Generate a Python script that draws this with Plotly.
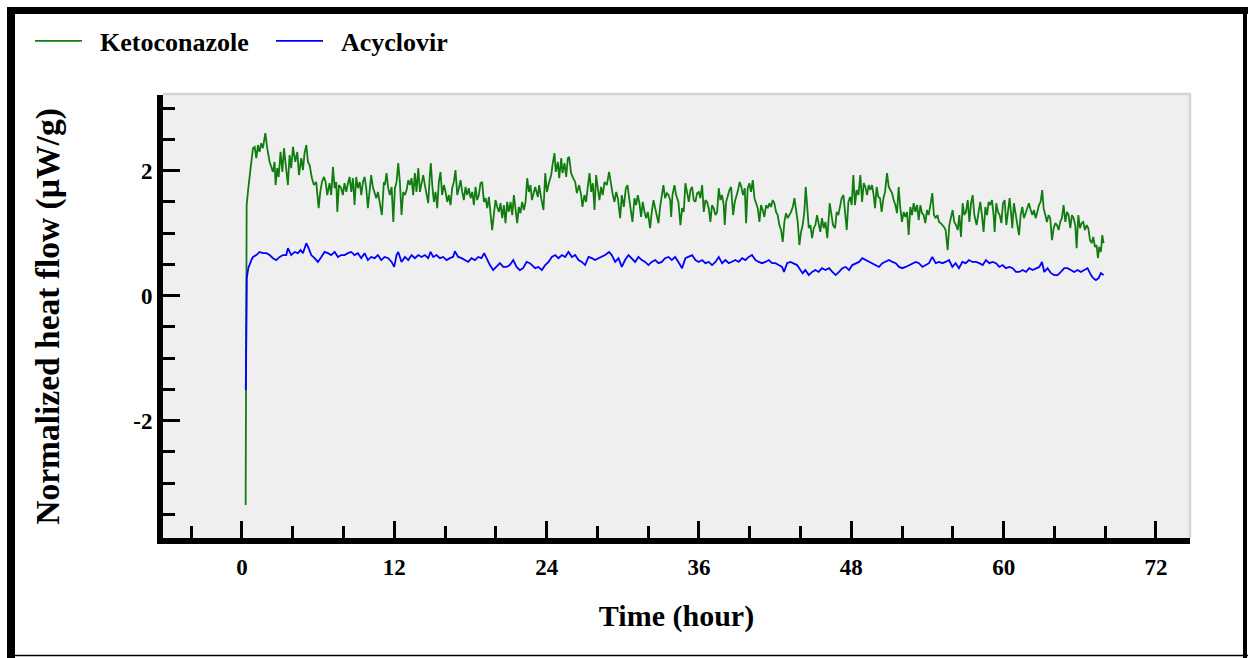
import plotly.graph_objects as go

# ---------------- data ----------------
green_time = [
    0.29, 0.31, 0.37, 0.47, 0.58, 0.68, 0.87, 1.00, 1.13, 1.26,
    1.39, 1.52, 1.65, 1.84, 1.99, 2.18, 2.31, 2.44, 2.57, 2.65,
    2.78, 2.89, 3.04, 3.18, 3.31, 3.44, 3.62, 3.75, 3.88, 4.02,
    4.20, 4.36, 4.49, 4.67, 4.80, 4.93, 5.07, 5.20, 5.33, 5.51,
    5.67, 5.85, 6.04, 6.17, 6.30, 6.46, 6.59, 6.72, 6.90, 7.03,
    7.17, 7.30, 7.43, 7.51, 7.64, 7.82, 7.95, 8.08, 8.22, 8.35,
    8.48, 8.61, 8.74, 8.87, 9.00, 9.13, 9.27, 9.40, 9.53, 9.66,
    9.79, 9.92, 10.05, 10.18, 10.31, 10.45, 10.58, 10.71, 10.84, 11.02,
    11.18,
    11.26, 11.39, 11.52, 11.65, 11.79, 11.92, 12.05, 12.18, 12.31, 12.44,
    12.57, 12.70, 12.84, 12.97, 13.10, 13.23, 13.36, 13.49, 13.62, 13.75,
    13.89, 14.02, 14.15, 14.28, 14.41, 14.54, 14.67, 14.80, 14.88, 14.99,
    15.12, 15.25, 15.38, 15.51, 15.64, 15.77, 15.91, 16.04, 16.17, 16.30,
    16.43, 16.56, 16.69, 16.82, 16.96, 17.09, 17.22, 17.35, 17.48, 17.61,
    17.74, 17.87, 18.01, 18.14, 18.27, 18.40, 18.53, 18.66, 18.79, 18.92,
    19.06, 19.19, 19.32, 19.45, 19.58, 19.71, 19.84, 19.97, 20.11, 20.24,
    20.37, 20.50, 20.63, 20.76, 20.89, 21.02, 21.16, 21.29, 21.42, 21.55,
    21.68, 21.81, 21.94, 22.07, 22.21, 22.34, 22.47, 22.60, 22.73,
    22.84, 23.10, 23.31, 23.41, 23.57, 23.75, 23.89, 24.02, 24.20, 24.36,
    24.46, 24.62, 24.72, 24.88, 24.99, 25.15, 25.25, 25.41, 25.54, 25.67,
    25.77, 25.93, 26.09, 26.25, 26.38, 26.56, 26.72, 26.82, 26.98, 27.11,
    27.24, 27.38, 27.51, 27.64, 27.77, 27.90, 28.03, 28.16, 28.29, 28.42,
    28.56, 28.74, 28.92, 29.06, 29.19, 29.34, 29.48, 29.61, 29.79, 29.92,
    30.08, 30.24, 30.37, 30.50, 30.63, 30.76, 30.92, 31.05, 31.18, 31.31,
    31.44, 31.57, 31.71, 31.84, 31.97, 32.15, 32.28, 32.42, 32.55, 32.68,
    32.81, 32.94, 33.07, 33.20, 33.33, 33.47, 33.60, 33.73, 33.81, 33.91,
    34.07, 34.20, 34.38,
    34.54, 34.67, 34.80, 34.93, 35.07, 35.20, 35.33, 35.46, 35.59, 35.72,
    35.85, 35.98, 36.11, 36.25, 36.38, 36.51, 36.64, 36.77, 36.90, 37.03,
    37.16, 37.30, 37.43, 37.56, 37.69, 37.82, 37.95, 38.03, 38.14, 38.27,
    38.40, 38.53, 38.69, 38.82, 38.95, 39.08, 39.21, 39.34, 39.47, 39.61,
    39.71, 39.84, 39.97, 40.10, 40.24, 40.37, 40.50, 40.63, 40.76, 40.89,
    41.02, 41.15, 41.29, 41.42, 41.55, 41.68, 41.81, 41.94, 42.07, 42.20,
    42.33, 42.47, 42.60, 42.73, 42.86, 42.99, 43.12, 43.25, 43.39, 43.52,
    43.65, 43.78, 43.91, 44.04, 44.17, 44.30, 44.41, 44.51, 44.65, 44.78,
    44.91, 45.04, 45.17, 45.30, 45.43, 45.56, 45.69, 45.83, 45.96,
    46.11, 46.30, 46.43, 46.56, 46.72, 46.85, 46.98, 47.11, 47.24, 47.38,
    47.51, 47.64, 47.77, 47.90, 48.03, 48.16, 48.29, 48.42, 48.56, 48.71,
    48.85, 48.98, 49.11, 49.24, 49.37, 49.50, 49.63, 49.76, 49.87, 50.00,
    50.13, 50.26, 50.39, 50.53, 50.66, 50.81, 50.95, 51.08, 51.21, 51.34,
    51.47, 51.60, 51.73, 51.86, 51.99, 52.13, 52.26, 52.39, 52.52, 52.65,
    52.78, 52.91, 53.04, 53.18, 53.31, 53.44, 53.57, 53.70, 53.83, 53.96,
    54.09, 54.23, 54.38, 54.51, 54.65, 54.78, 54.91, 55.04, 55.17, 55.30,
    55.43, 55.59, 55.72, 55.85, 55.98, 56.11, 56.25, 56.38, 56.51, 56.64,
    56.77, 56.90, 57.03, 57.17, 57.30, 57.43,
    57.56, 57.69, 57.87, 58.03, 58.16, 58.29, 58.42, 58.56, 58.69, 58.82,
    58.95, 59.08, 59.21, 59.29, 59.42, 59.55, 59.69, 59.82, 59.95, 60.08,
    60.21, 60.34, 60.47, 60.60, 60.68, 60.81, 60.95, 61.08, 61.21, 61.34,
    61.47, 61.60, 61.73, 61.86, 61.99, 62.13, 62.26, 62.39, 62.52, 62.65,
    62.78, 62.91, 63.04, 63.15, 63.28, 63.41, 63.54, 63.67, 63.81, 63.94,
    64.07, 64.20, 64.33, 64.46, 64.59, 64.72, 64.86, 64.99, 65.12, 65.25,
    65.38, 65.51, 65.64, 65.75, 65.88, 66.01, 66.14, 66.27, 66.40, 66.54,
    66.67, 66.80, 66.93, 67.06, 67.19, 67.32, 67.43, 67.53, 67.66, 67.77,
    67.87,
]
green_flow = [
    -3.35, 1.10, 1.45, 1.66, 1.90, 2.04, 2.36, 2.38, 2.20, 2.41,
    2.30, 2.44, 2.36, 2.60, 2.36, 2.14, 2.06, 1.98, 2.14, 1.77,
    2.04, 1.90, 2.30, 1.98, 2.36, 2.09, 1.77, 2.25, 2.04, 2.38,
    2.14, 2.30, 1.93, 2.20, 2.01, 2.28, 2.41, 2.14, 2.09, 1.88,
    1.77, 1.82, 1.40, 1.66, 1.82, 1.90, 1.82, 1.61, 1.80, 1.61,
    2.06, 1.72, 1.82, 1.34, 1.77, 1.72, 1.61, 1.80, 1.66, 1.80,
    1.90, 1.66, 1.88, 1.45, 1.90, 1.72, 1.82, 1.61, 1.82, 1.90,
    1.72, 1.40, 1.72, 1.93, 1.74, 1.66, 1.56, 1.66, 1.50, 1.29,
    1.82,
    1.77, 1.96, 1.72, 1.61, 1.74, 1.18, 1.72, 1.82, 2.12, 1.82,
    1.29, 1.66, 1.61, 1.69, 1.85, 1.77, 1.88, 1.61, 1.96, 1.66,
    2.04, 1.66, 1.82, 1.93, 1.77, 1.64, 1.48, 1.93, 2.12, 1.77,
    1.50, 1.66, 1.40, 1.82, 1.98, 1.61, 1.77, 1.66, 1.50, 1.61,
    1.45, 1.72, 1.82, 2.01, 1.61, 1.72, 1.85, 1.66, 1.53, 1.74,
    1.61, 1.72, 1.56, 1.66, 1.45, 1.74, 1.53, 1.61, 1.80, 1.82,
    1.50, 1.56, 1.40, 1.58, 1.34, 1.05, 1.29, 1.53, 1.42, 1.34,
    1.48, 1.24, 1.45, 1.16, 1.50, 1.34, 1.50, 1.29, 1.61, 1.34,
    1.16, 1.42, 1.32, 1.50, 1.37, 1.50, 1.88, 1.66, 1.77,
    1.53, 1.74, 1.58, 1.77, 1.56, 1.37, 1.96, 1.66, 1.82, 1.93,
    2.09, 2.28, 1.98, 2.14, 1.88, 2.20, 1.96, 2.12, 1.90, 2.20,
    2.22, 1.96, 1.88, 1.82, 1.64, 1.77, 1.61, 1.42, 1.61, 1.50,
    1.74, 1.96, 1.66, 1.80, 1.37, 1.93, 1.72, 1.53, 1.74, 1.61,
    1.82, 1.77, 1.98, 1.77, 1.64, 1.50, 1.66, 1.56, 1.24, 1.61,
    1.42, 1.72, 1.77, 1.56, 1.40, 1.18, 1.56, 1.45, 1.61, 1.48,
    1.26, 1.50, 1.34, 1.24, 1.34, 1.08, 1.34, 1.53, 1.40, 1.29,
    1.16, 1.42, 1.61, 1.77, 1.56, 1.64, 1.61, 1.53, 1.26, 1.61,
    1.77, 1.61, 1.50,
    1.13, 1.40, 1.34, 1.80, 1.61, 1.50, 1.69, 1.74, 1.53, 1.50,
    1.64, 1.66, 1.56, 1.77, 1.34, 1.53, 1.50, 1.40, 1.18, 1.45,
    1.40, 1.29, 1.34, 1.72, 1.53, 1.61, 1.45, 1.13, 1.50, 1.61,
    1.69, 1.74, 1.29, 1.50, 1.58, 1.69, 1.82, 1.74, 1.61, 1.72,
    1.16, 1.72, 1.80, 1.66, 1.85, 1.56, 1.48, 1.40, 1.18, 1.45,
    1.37, 1.26, 1.45, 1.40, 1.48, 1.42, 1.53, 1.48, 1.34, 1.29,
    1.13, 1.05, 0.86, 1.18, 1.32, 1.24, 1.29, 1.34, 1.42, 1.56,
    1.37, 1.18, 0.81, 1.02, 1.13, 1.34, 1.74, 1.40, 1.08, 1.13,
    0.92, 1.08, 1.13, 1.29, 1.13, 1.02, 1.24, 1.08, 1.18,
    0.92, 1.48, 1.29, 1.13, 1.08, 1.34, 1.29, 1.45, 1.56, 1.61,
    1.29, 1.05, 1.50, 1.58, 1.45, 1.93, 1.45, 1.69, 1.61, 1.93,
    1.50, 1.80, 1.74, 1.61, 1.77, 1.69, 1.77, 1.61, 1.40, 1.74,
    1.58, 1.56, 1.34, 1.56, 1.66, 1.96, 1.74, 1.69, 1.64, 1.53,
    1.45, 1.32, 1.74, 1.40, 1.18, 1.34, 1.26, 1.34, 0.97, 1.42,
    1.29, 1.48, 1.34, 1.45, 1.21, 1.45, 1.32, 1.29, 1.16, 1.37,
    1.29, 1.45, 1.64, 1.29, 1.24, 1.29, 1.18, 1.16, 1.13, 1.10,
    1.05, 0.73, 1.13, 1.24, 1.37, 1.18, 1.13, 1.05, 1.29, 0.94,
    1.48, 1.29, 1.34, 1.53, 1.18, 1.48,
    1.61, 1.29, 1.13, 1.34, 1.50, 1.29, 1.02, 1.42, 1.29, 1.50,
    1.45, 1.53, 1.29, 1.02, 1.48, 1.34, 1.29, 1.16, 1.48, 1.53,
    1.13, 1.34, 1.56, 1.29, 1.08, 1.48, 1.29, 1.18, 0.97, 1.29,
    1.42, 1.24, 1.32, 1.40, 1.48, 1.37, 1.29, 1.37, 1.24, 1.34,
    1.45, 1.50, 1.69, 1.40, 1.26, 1.18, 1.29, 1.24, 0.89, 1.08,
    1.16, 1.13, 1.05, 1.18, 1.24, 1.45, 1.18, 1.34, 1.29, 1.08,
    1.29, 1.24, 1.13, 0.76, 1.29, 1.08, 1.16, 1.18, 1.05, 1.13,
    1.08, 0.89, 0.84, 0.94, 0.78, 0.81, 0.60, 0.78, 0.70, 0.97,
    0.84,
]

blue_time = [
    0.30, 0.32, 0.38, 0.50, 0.62, 0.76, 0.87, 1.13, 1.39, 1.65,
    1.92, 2.18, 2.44, 2.70, 2.97, 3.23, 3.49, 3.62, 3.88, 4.15,
    4.41, 4.62, 4.80, 5.07, 5.25, 5.46, 5.72, 5.98, 6.25, 6.51,
    6.77, 7.03, 7.30, 7.56, 7.82, 8.08, 8.35, 8.61, 8.87, 9.13,
    9.40, 9.66, 9.92, 10.18, 10.45, 10.71, 10.97, 11.24,
    11.52, 11.79, 11.99, 12.18, 12.31, 12.57, 12.84, 13.10, 13.36, 13.62,
    13.89, 14.15, 14.41, 14.67, 14.86, 15.07, 15.33, 15.59, 15.85, 16.12,
    16.38, 16.64, 16.77, 17.03, 17.30, 17.56, 17.82, 18.08, 18.35, 18.61,
    18.87, 19.08, 19.27, 19.53, 19.79, 20.05, 20.32, 20.58, 20.84, 21.10,
    21.37, 21.63, 21.89, 22.15, 22.42, 22.68,
    22.84, 23.10, 23.36, 23.62, 23.89, 24.15, 24.41, 24.67, 24.93, 25.20,
    25.46, 25.72, 25.99, 26.25, 26.51, 26.77, 27.03, 27.30, 27.56, 27.82,
    28.08, 28.35, 28.61, 28.92, 29.13, 29.40, 29.66, 29.92, 30.18, 30.45,
    30.71, 30.97, 31.23, 31.50, 31.76, 32.02, 32.28, 32.55, 32.81, 33.07,
    33.33, 33.60, 33.86, 34.12, 34.38,
    34.67, 34.93, 35.20, 35.46, 35.72, 35.98, 36.25, 36.51, 36.77, 37.03,
    37.30, 37.56, 37.82, 38.08, 38.35, 38.61, 38.87, 39.13, 39.40, 39.66,
    39.92, 40.18, 40.45, 40.71, 40.97, 41.23, 41.50, 41.76, 42.02, 42.28,
    42.55, 42.70, 42.94, 43.20, 43.46, 43.73, 43.99, 44.17, 44.38, 44.65,
    44.91, 45.17, 45.43, 45.69, 45.96,
    46.25, 46.51, 46.77, 47.03, 47.30, 47.56, 47.82, 48.08, 48.35, 48.61,
    48.87, 49.13, 49.40, 49.66, 49.92, 50.18, 50.45, 50.71, 50.97, 51.23,
    51.50, 51.76, 52.02, 52.28, 52.55, 52.81, 53.07, 53.33, 53.60, 53.86,
    54.12, 54.38, 54.65, 54.91, 55.17, 55.43, 55.70, 55.96, 56.22, 56.48,
    56.75, 57.01, 57.27, 57.53,
    57.82, 58.08, 58.35, 58.61, 58.87, 59.13, 59.40, 59.66, 59.92, 60.18,
    60.45, 60.71, 60.97, 61.23, 61.50, 61.76, 62.02, 62.28, 62.55, 62.81,
    63.02, 63.20, 63.46, 63.73, 63.99, 64.25, 64.51, 64.78, 65.04, 65.30,
    65.56, 65.83, 66.09, 66.35, 66.61, 66.88, 67.06, 67.27, 67.48, 67.66,
    67.87,
]
blue_flow = [
    -1.51, 0.10, 0.28, 0.44, 0.52, 0.58, 0.62, 0.65, 0.70, 0.68,
    0.68, 0.65, 0.60, 0.57, 0.62, 0.65, 0.65, 0.76, 0.65, 0.70,
    0.68, 0.73, 0.68, 0.84, 0.76, 0.65, 0.60, 0.54, 0.62, 0.70,
    0.68, 0.65, 0.70, 0.62, 0.65, 0.65, 0.68, 0.70, 0.65, 0.68,
    0.60, 0.68, 0.57, 0.62, 0.60, 0.65, 0.57, 0.62,
    0.60, 0.54, 0.46, 0.65, 0.70, 0.54, 0.62, 0.57, 0.65, 0.60,
    0.65, 0.62, 0.65, 0.60, 0.70, 0.62, 0.65, 0.60, 0.62, 0.57,
    0.60, 0.62, 0.71, 0.62, 0.60, 0.57, 0.54, 0.60, 0.57, 0.62,
    0.60, 0.68, 0.60, 0.49, 0.41, 0.46, 0.52, 0.46, 0.46, 0.49,
    0.57, 0.46, 0.41, 0.44, 0.54, 0.52,
    0.49, 0.44, 0.46, 0.41, 0.49, 0.54, 0.62, 0.65, 0.60, 0.65,
    0.62, 0.70, 0.62, 0.65, 0.57, 0.54, 0.49, 0.62, 0.60, 0.57,
    0.60, 0.62, 0.65, 0.70, 0.65, 0.54, 0.60, 0.46, 0.57, 0.65,
    0.60, 0.54, 0.62, 0.57, 0.54, 0.49, 0.54, 0.57, 0.52, 0.54,
    0.60, 0.62, 0.57, 0.62, 0.54,
    0.44, 0.60, 0.62, 0.65, 0.57, 0.54, 0.57, 0.52, 0.54, 0.49,
    0.54, 0.62, 0.52, 0.57, 0.52, 0.54, 0.57, 0.54, 0.60, 0.57,
    0.62, 0.65, 0.57, 0.54, 0.52, 0.54, 0.57, 0.52, 0.52, 0.49,
    0.46, 0.38, 0.52, 0.54, 0.52, 0.49, 0.41, 0.36, 0.41, 0.33,
    0.38, 0.41, 0.38, 0.44, 0.41,
    0.44, 0.38, 0.33, 0.38, 0.44, 0.46, 0.41, 0.49, 0.52, 0.54,
    0.60, 0.57, 0.54, 0.52, 0.49, 0.46, 0.52, 0.54, 0.57, 0.54,
    0.52, 0.46, 0.44, 0.46, 0.49, 0.52, 0.54, 0.52, 0.46, 0.49,
    0.52, 0.62, 0.52, 0.54, 0.52, 0.54, 0.57, 0.46, 0.52, 0.44,
    0.54, 0.52, 0.57, 0.54,
    0.54, 0.52, 0.49, 0.57, 0.52, 0.54, 0.52, 0.46, 0.49, 0.44,
    0.46, 0.44, 0.38, 0.38, 0.41, 0.38, 0.44, 0.41, 0.44, 0.46,
    0.54, 0.38, 0.44, 0.36, 0.33, 0.33, 0.38, 0.44, 0.44, 0.41,
    0.38, 0.41, 0.38, 0.41, 0.44, 0.33, 0.28, 0.25, 0.28, 0.36,
    0.33,
]

series_names = ["Ketoconazole", "Acyclovir"]
x_tick_vals = [0, 12, 24, 36, 48, 60, 72]
x_tick_labels = ["0", "12", "24", "36", "48", "60", "72"]
y_tick_vals = [-2, 0, 2]
y_tick_labels = ["-2", "0", "2"]
x_title = "Time (hour)"
y_title = "Normalized heat flow (µW/g)"

assert len(green_time) == len(green_flow), (len(green_time), len(green_flow))
assert len(blue_time) == len(blue_flow), (len(blue_time), len(blue_flow))

# ---------------- layout geometry ----------------
W, H = 1248, 658
L, R, T, B = 163, 58, 95, 120
PW, PH = W - L - R, H - T - B
FONT = "Liberation Serif"
GAP = "\u2002"  # spacing between legend line sample and its label


def px(xp):
    return (xp - L) / PW


def py(yp):
    return (H - B - yp) / PH


fig = go.Figure()
fig.add_trace(go.Scatter(x=green_time, y=green_flow, mode="lines", name=GAP + series_names[0],
                         line=dict(color="#117d11", width=1.8)))
fig.add_trace(go.Scatter(x=blue_time, y=blue_flow, mode="lines", name=GAP + series_names[1],
                         line=dict(color="#0000ff", width=1.8)))

axis_common = dict(
    showline=True, linecolor="black", linewidth=6, mirror=False,
    ticks="inside", ticklen=17, tickwidth=3, tickcolor="black",
    showgrid=False, zeroline=False, automargin=True,
    tickfont=dict(family=FONT, size=23, color="black", weight="bold"),
)

fig.update_xaxes(
    **axis_common,
    range=[-6.22, 74.68],
    tickmode="array", tickvals=x_tick_vals, ticktext=x_tick_labels,
    ticklabelstandoff=3,
    minor=dict(tickmode="linear", tick0=0, dtick=4, ticks="inside", ticklen=12,
               tickwidth=3, tickcolor="black", showgrid=False),
    title=dict(text=x_title, standoff=28,
               font=dict(family=FONT, size=30, color="black", weight="bold")),
)
fig.update_yaxes(
    **axis_common,
    range=[-3.877, 3.211],
    tickmode="array", tickvals=y_tick_vals, ticktext=y_tick_labels,
    minor=dict(tickmode="linear", tick0=0, dtick=0.5, ticks="inside", ticklen=12,
               tickwidth=3, tickcolor="black", showgrid=False),
    title=dict(text=y_title, standoff=66,
               font=dict(family=FONT, size=33.5, color="black", weight="bold")),
)

shapes = [
    # light frame on top and right of the plotting area
    dict(type="line", xref="paper", yref="paper", x0=px(163), x1=px(1191), y0=py(94), y1=py(94),
         line=dict(color="#d5d5d5", width=2.5)),
    dict(type="line", xref="paper", yref="paper", x0=px(1190), x1=px(1190), y0=py(94), y1=py(538),
         line=dict(color="#d5d5d5", width=2.5)),
    # outer black frame
    dict(type="line", xref="paper", yref="paper", x0=px(7), x1=px(1248), y0=py(10.5), y1=py(10.5),
         line=dict(color="black", width=7)),
    dict(type="line", xref="paper", yref="paper", x0=px(11), x1=px(11), y0=py(7), y1=py(658),
         line=dict(color="black", width=8)),
    dict(type="line", xref="paper", yref="paper", x0=px(1245), x1=px(1245), y0=py(7), y1=py(658),
         line=dict(color="black", width=4)),
    dict(type="line", xref="paper", yref="paper", x0=px(7), x1=px(1248), y0=py(655.5), y1=py(655.5),
         line=dict(color="black", width=1.5)),
]

fig.update_layout(
    width=W, height=H,
    margin=dict(l=L, r=R, t=T, b=B, autoexpand=False),
    paper_bgcolor="white", plot_bgcolor="#efefef",
    shapes=shapes,
    showlegend=True,
    legend=dict(orientation="h", xref="container", yref="container",
                x=30 / W, y=1 - 41 / H, xanchor="left", yanchor="middle",
                font=dict(family=FONT, size=26, color="black", weight="bold"),
                bgcolor="rgba(0,0,0,0)", itemwidth=47, entrywidthmode="pixels",
                entrywidth=179),
)

fig.write_html("out.html")
